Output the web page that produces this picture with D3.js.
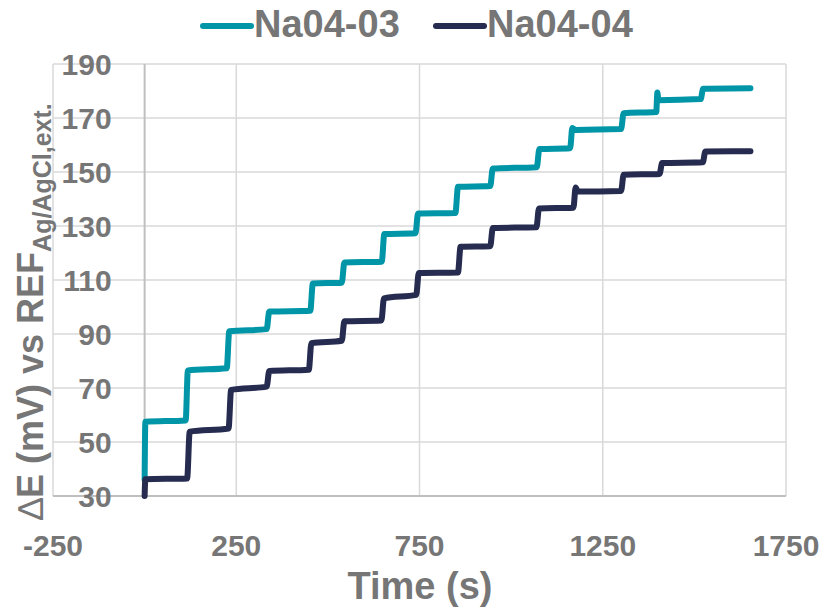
<!DOCTYPE html>
<html>
<head>
<meta charset="utf-8">
<script src="https://cdn.jsdelivr.net/npm/d3@7"></script>
<style>
  html, body { margin: 0; padding: 0; background: #ffffff; }
  svg { display: block; }
  text { font-family: "Liberation Sans", Arial, sans-serif; font-weight: bold; fill: #767676; }
</style>
</head>
<body>
<svg id="chart" width="825" height="610"></svg>
<script>
// ---------------- data ----------------
const seriesNames = ["Na04-03", "Na04-04"];
const seriesColors = ["#0096a7", "#262b50"];

const na0403Time  = [0, 2, 112, 118, 224, 231, 333, 340, 452, 459, 538, 545, 647, 654, 739, 746, 848, 855, 943, 950, 1070, 1077, 1161, 1167, 1175, 1300, 1307, 1396, 1399, 1402, 1517, 1524, 1653];
const na0403Value = [36, 57.5, 58, 76.5, 77.3, 91, 91.8, 98.3, 98.6, 108.7, 109, 116.5, 116.8, 127, 127.3, 134.6, 134.8, 144.5, 144.8, 151.3, 151.8, 158.5, 158.8, 166.3, 165.6, 165.9, 171.8, 172.2, 179.4, 176.6, 177, 180.8, 181];

const na0404Time  = [0, 2, 116, 123, 229, 236, 333, 340, 448, 455, 538, 545, 646, 653, 741, 748, 855, 862, 943, 950, 1069, 1076, 1170, 1176, 1182, 1300, 1307, 1405, 1412, 1523, 1530, 1653];
const na0404Value = [30, 36.2, 36.5, 53.8, 55, 69.3, 70.5, 76.3, 76.8, 86.6, 87.5, 94.7, 95, 103.2, 104.5, 112.6, 112.8, 122.3, 122.5, 129.3, 129.5, 136.5, 136.8, 144.3, 142.8, 143, 149, 149.3, 153.3, 153.6, 157.6, 157.7];

const xTicks = [-250, 250, 750, 1250, 1750];
const yTicks = [30, 50, 70, 90, 110, 130, 150, 170, 190];

const xTitle = "Time (s)";
const yTitleDelta = "\u2206";
const yTitleMain = "E (mV) vs REF";
const yTitleSub = "Ag/AgCl,ext.";

// ---------------- layout ----------------
const svg = d3.select("#chart");
const pLeft = 53, pRight = 786, pTop = 64, pBottom = 496;

const x = d3.scaleLinear().domain([-250, 1750]).range([pLeft, pRight]);
const y = d3.scaleLinear().domain([30, 190]).range([pBottom, pTop]);

// gridlines
const grid = svg.append("g");
grid.selectAll("line.h").data(yTicks).join("line")
  .attr("class", "h")
  .attr("x1", pLeft).attr("x2", pRight)
  .attr("y1", d => y(d)).attr("y2", d => y(d))
  .attr("stroke", "#d9d9d9").attr("stroke-width", 1.5);
grid.selectAll("line.v").data(xTicks).join("line")
  .attr("class", "v")
  .attr("y1", pTop).attr("y2", pBottom)
  .attr("x1", d => x(d)).attr("x2", d => x(d))
  .attr("stroke", "#d9d9d9").attr("stroke-width", 1.5);

// axis lines (crossing at 0 / 30)
svg.append("line")
  .attr("x1", x(0)).attr("x2", x(0)).attr("y1", pTop).attr("y2", pBottom)
  .attr("stroke", "#bfbfbf").attr("stroke-width", 2);
svg.append("line")
  .attr("x1", pLeft).attr("x2", pRight).attr("y1", y(30)).attr("y2", y(30))
  .attr("stroke", "#bfbfbf").attr("stroke-width", 2);

// y tick labels
svg.append("g").selectAll("text").data(yTicks).join("text")
  .attr("x", x(0) - 33)
  .attr("y", d => y(d) + 11)
  .attr("text-anchor", "end")
  .style("font-size", "30px")
  .text(d => d);

// x tick labels
svg.append("g").selectAll("text").data(xTicks).join("text")
  .attr("x", d => x(d))
  .attr("y", 556)
  .attr("text-anchor", "middle")
  .style("font-size", "30px")
  .text(d => d);

// axis titles
svg.append("text")
  .attr("x", 420).attr("y", 599)
  .attr("text-anchor", "middle")
  .style("font-size", "38px")
  .text(xTitle);

const yt = svg.append("text")
  .attr("transform", "translate(43,520) rotate(-90)")
  .attr("text-anchor", "start")
  .style("font-size", "36px");
yt.append("tspan").style("font-weight", "normal").text(yTitleDelta);
yt.append("tspan").text(yTitleMain);
yt.append("tspan").attr("dy", 8).style("font-size", "25px").text(yTitleSub);

// series lines
const series = [
  { name: seriesNames[0], color: seriesColors[0], pts: na0403Time.map((t, i) => [t, na0403Value[i]]) },
  { name: seriesNames[1], color: seriesColors[1], pts: na0404Time.map((t, i) => [t, na0404Value[i]]) }
];

const line = d3.line()
  .x(d => x(d[0]))
  .y(d => y(d[1]))
  .curve(d3.curveMonotoneX);

svg.append("g").selectAll("path").data(series).join("path")
  .attr("d", d => line(d.pts))
  .attr("fill", "none")
  .attr("stroke", d => d.color)
  .attr("stroke-width", 6)
  .attr("stroke-linecap", "round")
  .attr("stroke-linejoin", "round");

// legend
const legendPos = [203, 436];
const lg = svg.append("g").selectAll("g").data(series).join("g")
  .attr("transform", (d, i) => `translate(${legendPos[i]},0)`);
lg.append("line")
  .attr("x1", 0).attr("x2", 48).attr("y1", 26).attr("y2", 26)
  .attr("stroke", d => d.color).attr("stroke-width", 6)
  .attr("stroke-linecap", "round");
lg.append("text")
  .attr("x", 51).attr("y", 37)
  .style("font-size", "38px")
  .text(d => d.name);
</script>
</body>
</html>
